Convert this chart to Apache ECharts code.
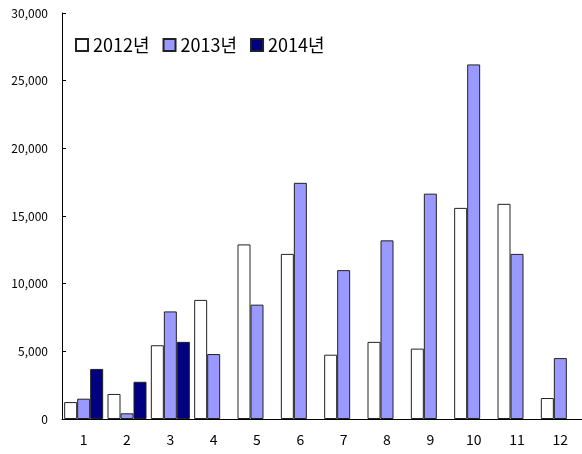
<!DOCTYPE html>
<html>
<head>
<meta charset="utf-8">
<script src="https://cdn.jsdelivr.net/npm/echarts@6/dist/echarts.min.js"></script>
<style>
  html, body { margin: 0; padding: 0; background: #fff; }
  #chart { width: 582px; height: 454px; }
</style>
</head>
<body>
<div id="chart"></div>
<script>
// 월 (x축)
const months = ["1", "2", "3", "4", "5", "6", "7", "8", "9", "10", "11", "12"];
// 연도별 값
const values2012 = [1250, 1850, 5450, 8800, 12900, 12200, 4750, 5700, 5200, 15600, 15900, 1550];
const values2013 = [1500, 420, 7950, 4800, 8450, 17450, 11000, 13200, 16650, 26200, 12200, 4500];
const values2014 = [3700, 2750, 5700, null, null, null, null, null, null, null, null, null];
const seriesNames = ["2012년", "2013년", "2014년"];

const chart = echarts.init(document.getElementById("chart"));

const font = "'Noto Sans CJK KR', 'Noto Sans', sans-serif";

function bar(name, data, fill) {
  return {
    name: name,
    type: "bar",
    data: data,
    barWidth: 13,
    barGap: "0%",
    itemStyle: { color: fill, borderColor: "#222", borderWidth: 1 },
  };
}

chart.setOption({
  animation: false,
  textStyle: { fontFamily: font },
  grid: { left: 62, right: -3, top: 13, bottom: 35 },
  legend: {
    left: 70,
    top: 31,
    icon: "rect",
    itemWidth: 12,
    itemHeight: 12,
    itemGap: 13,
    textStyle: { fontSize: 18, color: "#000", fontFamily: font },
    data: seriesNames,
  },
  xAxis: {
    type: "category",
    data: months,
    axisLine: { lineStyle: { color: "#000", width: 1 } },
    axisTick: { inside: true, length: 4, lineStyle: { color: "#000" } },
    axisLabel: { fontSize: 14, color: "#000", margin: 14 },
  },
  yAxis: {
    type: "value",
    min: 0,
    max: 30000,
    interval: 5000,
    axisLine: { show: true, lineStyle: { color: "#000", width: 1 } },
    axisTick: { show: true, inside: true, length: 4, lineStyle: { color: "#000" } },
    splitLine: { show: false },
    axisLabel: {
      fontSize: 12,
      color: "#000",
      margin: 14,
      formatter: (v) => v.toLocaleString("en-US"),
    },
  },
  series: [
    bar(seriesNames[0], values2012, "#ffffff"),
    bar(seriesNames[1], values2013, "#9999ff"),
    bar(seriesNames[2], values2014, "#000080"),
  ],
});
</script>
</body>
</html>
